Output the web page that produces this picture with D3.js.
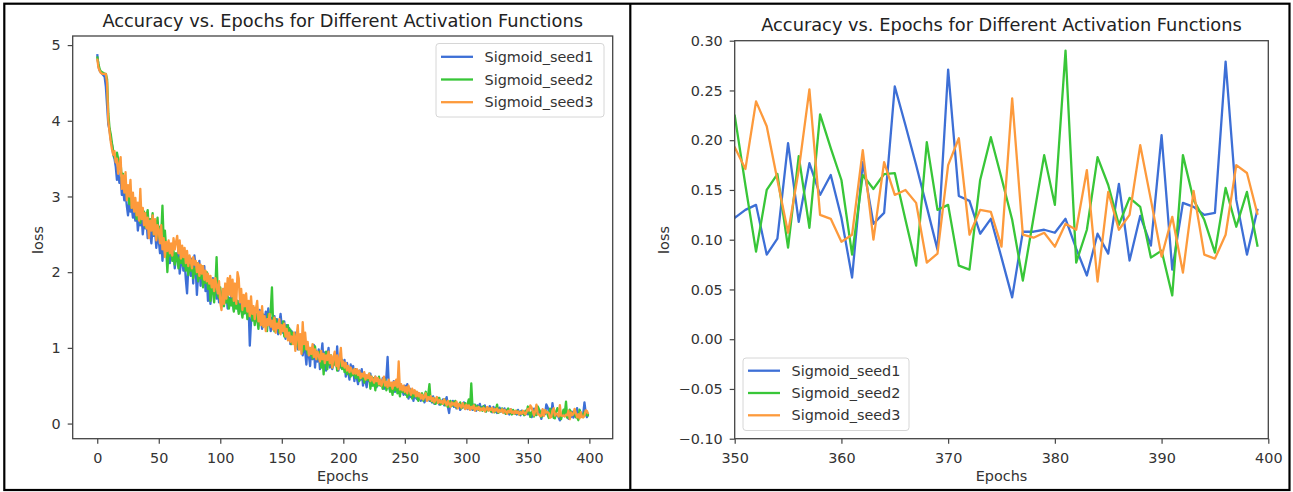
<!DOCTYPE html>
<html><head><meta charset="utf-8">
<script src="https://cdn.jsdelivr.net/npm/d3@7"></script>
<style>body{margin:0;background:#fff} svg{display:block} text{font-family:"DejaVu Sans",sans-serif}</style>
</head><body><svg id="c" width="1293" height="492"></svg>
<script>
const seriesNames = ["Sigmoid_seed1", "Sigmoid_seed2", "Sigmoid_seed3"];
const seriesColors = ["#3d6fd6", "#38c638", "#fd9a3c"];
const titleText = "Accuracy vs. Epochs for Different Activation Functions";
const xLabel = "Epochs";
const yLabel = "loss";

const seed1 = [
4.88,4.72,4.66,4.64,4.62,4.6,4.58,4.45,4.2,3.95,
3.88,3.75,3.68,3.55,3.5,3.4,3.22,3.35,3.18,3.25,
3.02,3.1,2.95,3.05,2.88,2.75,2.92,2.8,2.86,2.72,
2.78,2.68,2.82,2.55,2.7,2.62,2.75,2.5,2.66,2.58,
2.7,2.45,2.62,2.52,2.38,2.6,2.48,2.55,2.32,2.5,
2.42,2.25,2.48,2.15,2.35,2.28,2.4,2.2,2.32,2.12,
2.3,2.18,2.25,2.05,2.22,2.15,2.3,1.98,2.12,2.2,
2.02,2.15,1.9,1.72,2.05,2.1,1.95,2.18,1.85,2.22,
2.05,1.7,1.98,2.15,1.82,2.0,1.9,2.08,1.75,1.95,
1.62,1.88,1.58,1.8,1.92,1.7,1.85,1.65,1.78,1.6,
1.75,1.55,1.68,1.78,1.6,1.72,1.52,1.66,1.58,1.7,
1.62,1.5,1.68,1.55,1.62,1.48,1.6,1.52,1.65,1.45,
1.58,1.5,1.42,1.55,1.03,1.35,1.48,1.4,1.52,1.36,
1.45,1.3,1.5,1.38,1.25,1.44,1.33,1.48,1.28,1.52,
1.36,1.22,1.4,1.3,1.42,1.25,1.38,1.18,1.32,1.45,
1.28,1.2,1.35,1.12,1.3,1.18,1.26,1.05,1.22,1.15,
1.08,1.2,1.1,0.98,1.15,1.02,1.12,0.9,1.05,0.95,
0.78,1.05,0.9,0.76,1.0,0.85,1.04,0.74,0.95,0.82,
0.98,0.72,0.9,1.06,0.78,0.94,0.7,0.88,1.0,0.74,
0.86,0.72,0.82,0.9,0.76,1.02,0.7,0.8,0.74,0.84,
0.75,0.84,0.62,0.8,0.68,0.58,0.78,0.64,0.76,0.56,
0.72,0.6,0.52,0.7,0.58,0.72,0.5,0.66,0.56,0.48,
0.62,0.56,0.66,0.5,0.6,0.54,0.62,0.48,0.58,0.52,
0.56,0.5,0.6,0.46,0.55,0.62,0.88,0.5,0.44,0.52,
0.48,0.56,0.42,0.52,0.46,0.5,0.4,0.48,0.44,0.38,
0.5,0.38,0.52,0.33,0.46,0.35,0.44,0.3,0.42,0.34,
0.32,0.4,0.35,0.3,0.38,0.34,0.28,0.36,0.32,0.38,
0.3,0.34,0.28,0.36,0.26,0.32,0.29,0.34,0.25,0.3,
0.27,0.32,0.24,0.3,0.35,0.22,0.14,0.28,0.24,0.3,
0.22,0.27,0.2,0.26,0.24,0.18,0.25,0.21,0.28,0.2,
0.24,0.19,0.26,0.2,0.23,0.18,0.25,0.21,0.17,0.24,
0.2,0.26,0.18,0.22,0.19,0.24,0.16,0.21,0.18,0.23,
0.19,0.15,0.22,0.17,0.2,0.14,0.19,0.21,0.16,0.18,
0.15,0.2,0.13,0.18,0.16,0.12,0.19,0.15,0.17,0.13,
0.16,0.12,0.18,0.14,0.11,0.17,0.13,0.15,0.12,0.16,
0.122,0.130,0.135,0.085,0.101,0.197,0.118,0.177,0.145,0.165,
0.122,0.062,0.178,0.116,0.127,0.254,0.215,0.175,0.133,0.090,
0.271,0.144,0.139,0.106,0.121,0.082,0.042,0.108,0.108,0.110,
0.107,0.121,0.091,0.064,0.106,0.086,0.156,0.079,0.124,0.094,
0.205,0.070,0.137,0.133,0.125,0.127,0.279,0.140,0.085,0.131];

const seed2 = [
4.85,4.75,4.68,4.65,4.64,4.63,4.62,4.62,4.55,4.1,
3.9,3.82,3.7,3.6,3.52,3.48,3.58,3.5,3.38,3.44,
3.22,3.3,3.08,3.18,3.0,3.12,2.9,3.02,2.85,2.95,
2.82,2.92,2.7,2.88,2.78,2.65,2.85,2.72,2.8,2.6,
2.75,2.82,2.55,2.7,2.62,2.78,2.5,2.65,2.58,2.72,
2.45,2.6,2.5,2.88,2.42,2.55,2.32,2.0,2.3,2.22,
2.35,2.15,2.28,2.1,2.25,2.18,2.05,2.2,2.12,2.26,
2.08,2.2,2.02,2.14,1.96,2.1,2.02,2.16,1.92,2.05,
1.98,2.12,1.88,2.02,1.92,2.08,1.8,1.96,1.86,2.0,
1.78,1.92,1.62,1.85,1.75,1.6,1.82,2.2,1.7,1.66,
1.8,1.62,1.72,1.55,1.7,1.6,1.68,1.52,1.64,1.56,
1.66,1.48,1.6,1.52,1.62,1.45,1.56,1.5,1.4,1.54,
1.46,1.58,1.38,1.5,1.42,1.55,1.36,1.48,1.3,1.44,
1.38,1.25,1.42,1.32,1.46,1.28,1.4,1.34,1.22,1.45,
1.32,1.5,1.8,1.3,1.22,1.38,1.26,1.34,1.2,1.3,
1.22,1.35,1.15,1.28,1.18,1.3,1.12,1.24,1.05,1.2,
1.14,1.02,1.18,1.08,0.98,1.12,1.04,0.95,1.1,0.98,
1.05,0.92,1.0,0.9,0.98,0.86,0.95,1.02,0.88,0.94,
0.85,0.95,0.74,0.9,0.65,0.86,0.95,0.72,0.88,0.78,
0.9,0.74,0.84,0.78,0.86,0.7,0.8,0.75,0.88,0.72,
0.78,0.68,0.75,0.65,0.72,0.68,0.62,0.7,0.64,0.72,
0.6,0.68,0.62,0.56,0.66,0.6,0.64,0.54,0.62,0.58,
0.58,0.66,0.46,0.62,0.5,0.6,0.44,0.58,0.5,0.62,
0.5,0.55,0.46,0.52,0.58,0.44,0.5,0.54,0.42,0.48,
0.38,0.5,0.44,0.52,0.4,0.46,0.36,0.48,0.42,0.45,
0.4,0.46,0.35,0.42,0.38,0.44,0.33,0.4,0.36,0.42,
0.35,0.3,0.38,0.34,0.4,0.3,0.36,0.42,0.32,0.38,
0.52,0.3,0.34,0.28,0.33,0.26,0.31,0.28,0.34,0.25,
0.3,0.26,0.32,0.24,0.29,0.22,0.27,0.3,0.23,0.28,
0.24,0.3,0.21,0.26,0.23,0.28,0.2,0.25,0.22,0.27,
0.21,0.26,0.32,0.2,0.53,0.22,0.19,0.25,0.2,0.23,
0.18,0.22,0.2,0.17,0.23,0.19,0.16,0.21,0.18,0.2,
0.16,0.2,0.18,0.15,0.19,0.25,0.14,0.18,0.16,0.2,
0.15,0.18,0.13,0.17,0.2,0.14,0.16,0.12,0.18,0.15,
0.13,0.17,0.14,0.12,0.16,0.13,0.15,0.11,0.17,0.14,
0.225,0.155,0.088,0.150,0.166,0.092,0.184,0.112,0.226,0.192,
0.160,0.085,0.165,0.151,0.166,0.167,0.120,0.074,0.198,0.130,
0.135,0.074,0.070,0.160,0.203,0.162,0.120,0.059,0.122,0.185,
0.135,0.290,0.077,0.110,0.183,0.155,0.115,0.142,0.133,0.082,
0.089,0.044,0.185,0.140,0.120,0.087,0.152,0.113,0.148,0.093];

const seed3 = [
4.82,4.7,4.66,4.63,4.62,4.62,4.62,4.62,4.5,4.0,
3.85,3.72,3.62,3.55,3.6,3.45,3.5,3.3,3.42,3.52,
3.1,3.28,3.05,3.32,2.95,3.15,3.0,3.22,2.85,3.05,
2.8,2.98,2.75,2.92,2.68,3.1,2.7,2.85,2.62,2.78,
2.58,2.72,2.45,2.68,2.55,2.75,2.5,2.7,2.42,2.62,
2.55,2.38,2.62,2.3,2.45,2.2,2.4,2.28,2.42,2.25,
2.38,2.22,2.45,2.3,2.4,2.48,2.25,2.42,2.18,2.35,
2.2,2.32,2.12,2.28,2.08,2.22,2.15,2.05,2.2,2.1,
2.15,2.0,2.12,1.95,2.1,1.98,2.08,1.9,2.02,1.88,
1.98,1.85,1.95,1.8,1.9,1.75,1.92,1.82,1.72,1.88,
1.6,1.5,1.78,1.58,1.85,1.65,1.92,1.7,1.95,1.68,
1.9,1.62,1.85,1.58,2.0,1.92,1.6,1.78,1.5,1.7,
1.55,1.72,1.48,1.62,1.42,1.68,1.45,1.55,1.38,1.52,
1.62,1.35,1.48,1.3,1.55,1.28,1.42,1.22,1.38,1.3,
1.45,1.28,1.36,1.24,1.4,1.2,1.32,1.26,1.38,1.18,
1.3,1.22,1.32,1.15,1.25,1.1,1.2,1.08,1.15,1.05,
1.2,0.96,1.15,1.3,0.98,1.18,0.92,1.34,1.05,1.2,
0.98,1.08,0.9,1.0,0.92,1.05,0.88,0.98,0.85,0.95,
0.9,0.82,0.96,0.85,0.92,0.8,0.9,0.84,0.95,0.8,
0.9,0.74,0.88,0.95,0.76,0.9,0.72,0.86,1.0,0.76,
0.82,0.74,0.8,0.7,0.76,0.68,0.74,0.7,0.66,0.72,
0.66,0.72,0.64,0.7,0.6,0.66,0.62,0.68,0.58,0.64,
0.6,0.66,0.56,0.62,0.58,0.54,0.62,0.56,0.6,0.52,
0.58,0.5,0.56,0.62,0.5,0.55,0.48,0.58,0.5,0.54,
0.46,0.55,0.5,0.58,0.48,0.82,0.45,0.52,0.44,0.5,
0.42,0.48,0.4,0.5,0.44,0.38,0.46,0.4,0.44,0.36,
0.42,0.36,0.4,0.33,0.38,0.32,0.36,0.4,0.3,0.35,
0.32,0.36,0.3,0.34,0.28,0.32,0.35,0.27,0.31,0.28,
0.3,0.26,0.32,0.28,0.24,0.3,0.26,0.22,0.28,0.25,
0.27,0.23,0.29,0.2,0.26,0.24,0.21,0.27,0.23,0.19,
0.25,0.2,0.24,0.18,0.22,0.2,0.24,0.17,0.21,0.19,
0.22,0.17,0.2,0.18,0.21,0.16,0.19,0.22,0.17,0.2,
0.18,0.21,0.15,0.19,0.17,0.2,0.15,0.18,0.16,0.19,
0.14,0.18,0.16,0.13,0.17,0.15,0.19,0.14,0.16,0.13,
0.17,0.14,0.16,0.12,0.15,0.13,0.17,0.14,0.12,0.16,
0.193,0.171,0.239,0.214,0.160,0.107,0.170,0.251,0.125,0.121,
0.098,0.105,0.190,0.100,0.178,0.145,0.150,0.137,0.077,0.086,
0.175,0.202,0.105,0.130,0.128,0.093,0.242,0.105,0.102,0.107,
0.093,0.116,0.110,0.170,0.058,0.148,0.110,0.125,0.195,0.140,
0.083,0.123,0.067,0.149,0.085,0.081,0.105,0.175,0.167,0.125];

const epochs = seed1.map((_, i) => i);
const seriesValues = [seed1, seed2, seed3];

const leftXTicks = [0, 50, 100, 150, 200, 250, 300, 350, 400];
const leftYTicks = [0, 1, 2, 3, 4, 5];
const rightXTicks = [350, 360, 370, 380, 390, 400];
const rightYTicks = [-0.10, -0.05, 0.00, 0.05, 0.10, 0.15, 0.20, 0.25, 0.30];

const svg = d3.select("#c");
svg.append("rect").attr("width", 1293).attr("height", 492).attr("fill", "#fff");

const TICK_FS = 14.4, TITLE_FS = 17.8, LINE_W = 2.3;
const fmtMinus = f => v => f(v).replace("-", "\u2212");

function panel(cfg) {
  const g = svg.append("g");
  const x = d3.scaleLinear().domain(cfg.xDomain).range([cfg.left, cfg.right]);
  const y = d3.scaleLinear().domain(cfg.yDomain).range([cfg.bottom, cfg.top]);

  const clipId = "clip" + cfg.id;
  svg.append("clipPath").attr("id", clipId).append("rect")
    .attr("x", cfg.left).attr("y", cfg.top)
    .attr("width", cfg.right - cfg.left).attr("height", cfg.bottom - cfg.top);

  const line = d3.line().x(d => x(d[0])).y(d => y(d[1]));
  const lg = g.append("g").attr("clip-path", `url(#${clipId})`);
  seriesValues.forEach((vals, k) => {
    const pts = epochs.map((e, i) => [e, vals[i]]).filter(p => p[0] >= cfg.xDomain[0] - 1 && p[0] <= cfg.xDomain[1] + 1);
    lg.append("path").datum(pts).attr("d", line)
      .attr("fill", "none").attr("stroke", seriesColors[k])
      .attr("stroke-width", LINE_W).attr("stroke-linejoin", "round").attr("stroke-linecap", "butt");
  });

  const xa = g.append("g").attr("transform", `translate(0,${cfg.bottom})`)
    .call(d3.axisBottom(x).tickValues(cfg.xTicks).tickFormat(cfg.xFmt).tickSize(5).tickPadding(9.5).tickSizeOuter(0));
  const ya = g.append("g").attr("transform", `translate(${cfg.left},0)`)
    .call(d3.axisLeft(y).tickValues(cfg.yTicks).tickFormat(cfg.yFmt).tickSize(5).tickPadding(7).tickSizeOuter(0));
  [xa, ya].forEach(a => {
    a.select(".domain").remove();
    a.selectAll("line").attr("stroke", "#444").attr("stroke-width", 1.2);
    a.selectAll("text").attr("fill", "#333").style("font-size", TICK_FS + "px").style("font-family", "DejaVu Sans");
  });

  g.append("rect").attr("x", cfg.left).attr("y", cfg.top)
    .attr("width", cfg.right - cfg.left).attr("height", cfg.bottom - cfg.top)
    .attr("fill", "none").attr("stroke", "#444").attr("stroke-width", 1.3);

  g.append("text").attr("x", (cfg.left + cfg.right) / 2).attr("y", cfg.titleY)
    .attr("text-anchor", "middle").attr("fill", "#222").style("font-size", TITLE_FS + "px").text(titleText);
  g.append("text").attr("x", (cfg.left + cfg.right) / 2).attr("y", 481)
    .attr("text-anchor", "middle").attr("fill", "#333").style("font-size", TICK_FS + "px").text(xLabel);
  g.append("text").attr("transform", `translate(${cfg.yLabelX},240) rotate(-90)`)
    .attr("text-anchor", "middle").attr("fill", "#333").style("font-size", TICK_FS + "px").text(yLabel);

  // legend
  const L = cfg.legend;
  g.append("rect").attr("x", L.x).attr("y", L.y).attr("width", L.w).attr("height", L.h)
    .attr("rx", 3).attr("fill", "#fff").attr("fill-opacity", 0.85)
    .attr("stroke", "#d6d6d6").attr("stroke-width", 1);
  seriesNames.forEach((name, k) => {
    const yy = L.y + L.first + k * L.step;
    g.append("line").attr("x1", L.x + 5).attr("x2", L.x + 37).attr("y1", yy).attr("y2", yy)
      .attr("stroke", seriesColors[k]).attr("stroke-width", LINE_W);
    g.append("text").attr("x", L.x + 48.5).attr("y", yy).attr("dy", "0.36em")
      .attr("fill", "#333").style("font-size", TICK_FS + "px").text(name);
  });
}

panel({
  id: "L", left: 72.7, right: 612.7, top: 36, bottom: 438.7,
  xDomain: [-19.95, 418.95], yDomain: [-0.2, 5.12],
  xTicks: leftXTicks, yTicks: leftYTicks, xFmt: d3.format("d"), yFmt: d3.format("d"),
  titleY: 26.5, yLabelX: 42.5,
  legend: { x: 436, y: 43.5, w: 168, h: 73.5, first: 13.3, step: 22.7 }
});
panel({
  id: "R", left: 734.7, right: 1268.3, top: 40.7, bottom: 438.7,
  xDomain: [350, 400], yDomain: [-0.1, 0.3],
  xTicks: rightXTicks, yTicks: rightYTicks, xFmt: d3.format("d"), yFmt: fmtMinus(d3.format(".2f")),
  titleY: 30.5, yLabelX: 669,
  legend: { x: 743, y: 358, w: 166, h: 72.5, first: 12.7, step: 22.3 }
});

// outer frame and divider
svg.append("rect").attr("x", 4.3).attr("y", 3.7).attr("width", 1285.2).attr("height", 486.3)
  .attr("fill", "none").attr("stroke", "#000").attr("stroke-width", 2.2);
svg.append("line").attr("x1", 630.3).attr("x2", 630.3).attr("y1", 3).attr("y2", 491)
  .attr("stroke", "#000").attr("stroke-width", 2.2);
</script></body></html>
